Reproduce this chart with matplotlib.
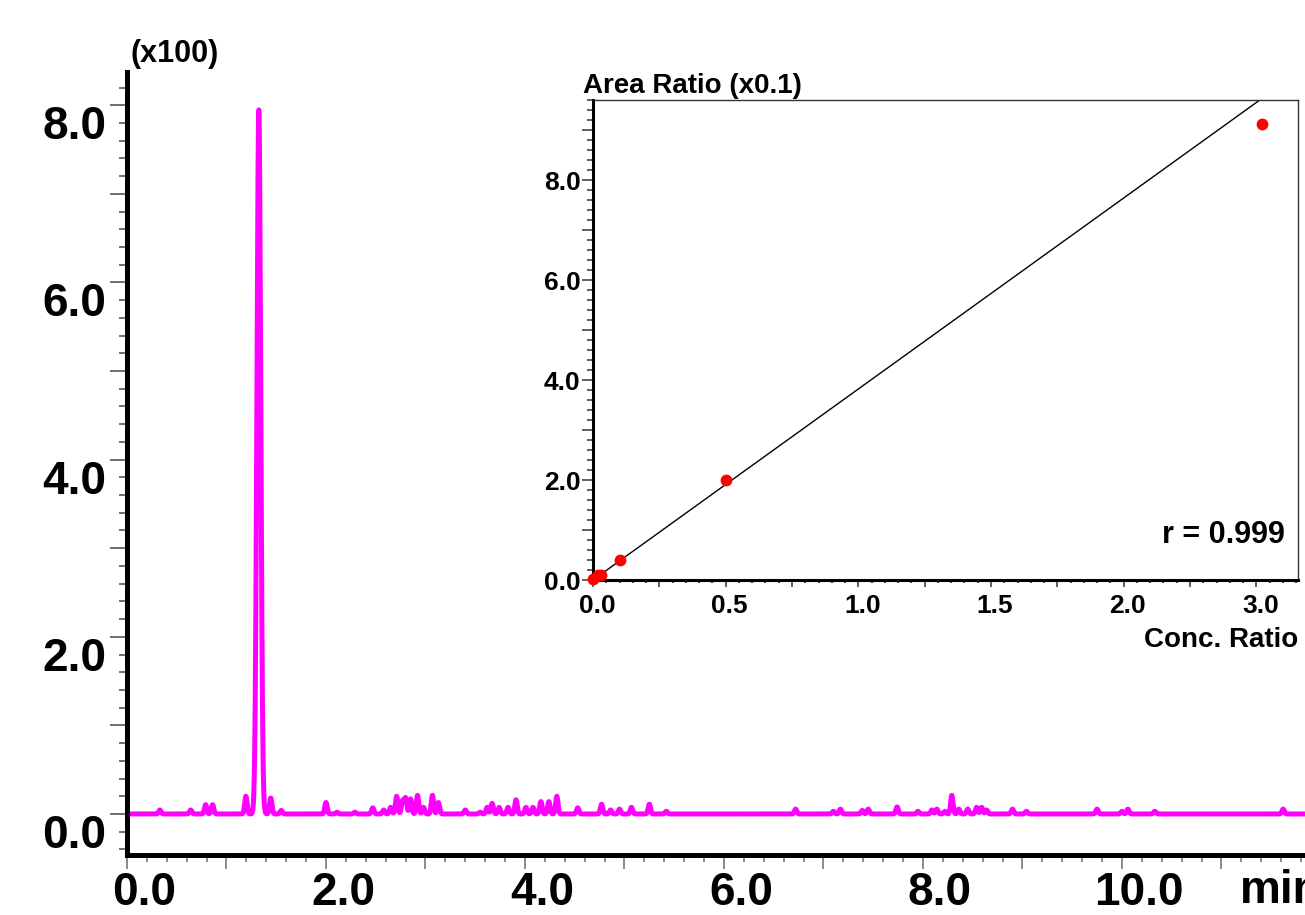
import numpy as np
import matplotlib
matplotlib.use('Agg')
from matplotlib import pyplot as plt
from matplotlib.ticker import MultipleLocator, FuncFormatter
from matplotlib.transforms import ScaledTranslation

plt.rcParams['font.family'] = ['Liberation Sans', 'DejaVu Sans']
plt.rcParams['font.weight'] = 'bold'

# chromatogram: main peak and small baseline peaks (time in min, height x100)
main_rt = 1.325
main_height = 7.95
peak_rt = [0.33, 0.64, 0.79, 0.86, 1.195, 1.445, 1.55, 2.00, 2.11, 2.29,
           2.47, 2.58, 2.65, 2.71, 2.77, 2.80, 2.85, 2.92, 2.98, 3.07,
           3.13, 3.40, 3.55, 3.62, 3.67, 3.74, 3.83, 3.91, 4.01, 4.08,
           4.16, 4.24, 4.32, 4.53, 4.77, 4.86, 4.95, 5.07, 5.25, 5.42,
           6.72, 7.10, 7.17, 7.39, 7.45, 7.74, 7.95, 8.09, 8.14, 8.22,
           8.29, 8.36, 8.45, 8.54, 8.59, 8.64, 8.90, 9.04, 9.75, 10.00,
           10.06, 10.33, 11.62]
peak_height = [0.045, 0.045, 0.105, 0.105, 0.20, 0.18, 0.04, 0.13, 0.02, 0.02,
               0.07, 0.045, 0.075, 0.20, 0.15, 0.18, 0.17, 0.21, 0.075, 0.21,
               0.13, 0.045, 0.02, 0.075, 0.12, 0.075, 0.075, 0.16, 0.075, 0.075,
               0.14, 0.14, 0.20, 0.07, 0.11, 0.045, 0.055, 0.075, 0.11, 0.03,
               0.055, 0.03, 0.055, 0.04, 0.055, 0.08, 0.03, 0.045, 0.055, 0.03,
               0.21, 0.055, 0.055, 0.075, 0.075, 0.045, 0.055, 0.03, 0.055, 0.03,
               0.055, 0.03, 0.055]

# calibration curve (inset)
conc_ratio = [0.0, 0.02, 0.03, 0.1, 0.5, 2.52]
area_ratio = [0.02, 0.1, 0.1, 0.4, 2.0, 9.11]
fit_slope = 3.82
fit_intercept = 0.0
r_value = 0.999
inset_xtick_pos = [0.0, 0.5, 1.0, 1.5, 2.0, 2.5]
inset_xtick_labels = ['0.0', '0.5', '1.0', '1.5', '2.0', '3.0']

W, H = 1305, 915
fig = plt.figure(figsize=(W / 100, H / 100), dpi=100)

# ---- main chromatogram ----
ax = fig.add_axes([127 / W, 1 - 855 / H, 1 - 127 / W, (855 - 72) / H])
t = np.linspace(0, 11.9, 8000)
trace = main_height * np.exp(-0.5 * ((t - main_rt) / 0.019) ** 2)
for rt, h in zip(peak_rt, peak_height):
    trace += h * np.exp(-0.5 * ((t - rt) / 0.012) ** 2)
ax.plot(t, trace, color='#ff00ff', lw=3.6, solid_joinstyle='round')
ax.set_xlim(0, 11.84)
ax.set_ylim(-0.463, 8.375)

for s in ['top', 'right']:
    ax.spines[s].set_visible(False)
for s in ['left', 'bottom']:
    ax.spines[s].set_linewidth(3.6)

even_fmt = FuncFormatter(lambda v, p: f'{abs(v):.1f}' if round(v) % 2 == 0 else '')
ax.xaxis.set_major_locator(MultipleLocator(1.0))
ax.xaxis.set_minor_locator(MultipleLocator(0.2))
ax.yaxis.set_major_locator(MultipleLocator(1.0))
ax.yaxis.set_minor_locator(MultipleLocator(0.2))
ax.xaxis.set_major_formatter(even_fmt)
ax.yaxis.set_major_formatter(even_fmt)
ax.tick_params(axis='x', which='major', length=10, width=1.2, color='#777777',
               labelsize=33, pad=1.5)
ax.tick_params(axis='x', which='minor', length=5, width=1.2, color='#777777')
ax.tick_params(axis='y', which='major', length=12, width=1.2, color='#555555',
               labelsize=33, pad=3)
ax.tick_params(axis='y', which='minor', length=6, width=1.2, color='#555555')

for lbl in ax.get_xticklabels():
    lbl.set_transform(lbl.get_transform() + ScaledTranslation(0.17, 0, fig.dpi_scale_trans))
for lbl in ax.get_yticklabels():
    lbl.set_transform(lbl.get_transform() + ScaledTranslation(0, -0.17, fig.dpi_scale_trans))

fig.text(130 / W, 1 - 62 / H, '(x100)', fontsize=22, fontweight='bold',
         ha='left', va='baseline')
fig.text(1240 / W, 1 - 903 / H, 'min', fontsize=33, fontweight='bold',
         ha='left', va='baseline')

# ---- inset calibration curve ----
ax2 = fig.add_axes([593 / W, 1 - 580 / H, (1298 - 593) / W, (580 - 100) / H])
ax2.set_facecolor('white')
xs = np.array([0.0, 2.8])
ax2.plot(xs, fit_slope * xs + fit_intercept, color='black', lw=1.0)
ax2.plot(conc_ratio, area_ratio, 'o', color='#ff0000', ms=8.5, mec='none',
         clip_on=False, zorder=3)
ax2.set_xlim(0, 2.657)
ax2.set_ylim(0, 9.6)

for s in ['left', 'bottom']:
    ax2.spines[s].set_linewidth(2.2)
for s in ['top', 'right']:
    ax2.spines[s].set_linewidth(1.0)
    ax2.spines[s].set_color('#333333')

xt = np.arange(0, 2.66, 0.25)
xl = []
for v in xt:
    lab = ''
    for p, l in zip(inset_xtick_pos, inset_xtick_labels):
        if abs(p - v) < 1e-6:
            lab = l
    xl.append(lab)
ax2.set_xticks(xt, xl)
ax2.xaxis.set_minor_locator(MultipleLocator(0.05))
ax2.yaxis.set_major_locator(MultipleLocator(1.0))
ax2.yaxis.set_minor_locator(MultipleLocator(0.2))
ax2.yaxis.set_major_formatter(FuncFormatter(lambda v, p: f'{v:.1f}' if round(v) % 2 == 0 else ''))
ax2.tick_params(axis='x', which='major', length=5, width=1.2, color='#444444',
                labelsize=19, pad=5)
ax2.tick_params(axis='x', which='minor', length=2.5, width=1.5, color='#444444')
ax2.tick_params(axis='y', which='major', length=8, width=1.2, color='#444444',
                labelsize=19, pad=1)
ax2.tick_params(axis='y', which='minor', length=4, width=1.2, color='#444444')
for lbl in ax2.get_xticklabels():
    lbl.set_transform(lbl.get_transform() + ScaledTranslation(0.04, 0, fig.dpi_scale_trans))

ax2.text(-0.014, 1.0146, 'Area Ratio (x0.1)', transform=ax2.transAxes,
         fontsize=20, fontweight='bold', ha='left', va='baseline')
ax2.text(1.0, -0.1396, 'Conc. Ratio', transform=ax2.transAxes,
         fontsize=20, fontweight='bold', ha='right', va='baseline')
ax2.text(0.9816, 0.077, f'r = {r_value:.3f}', transform=ax2.transAxes,
         fontsize=22, fontweight='bold', ha='right', va='baseline')

fig.savefig('out.png', dpi=100)
plt.close(fig)
